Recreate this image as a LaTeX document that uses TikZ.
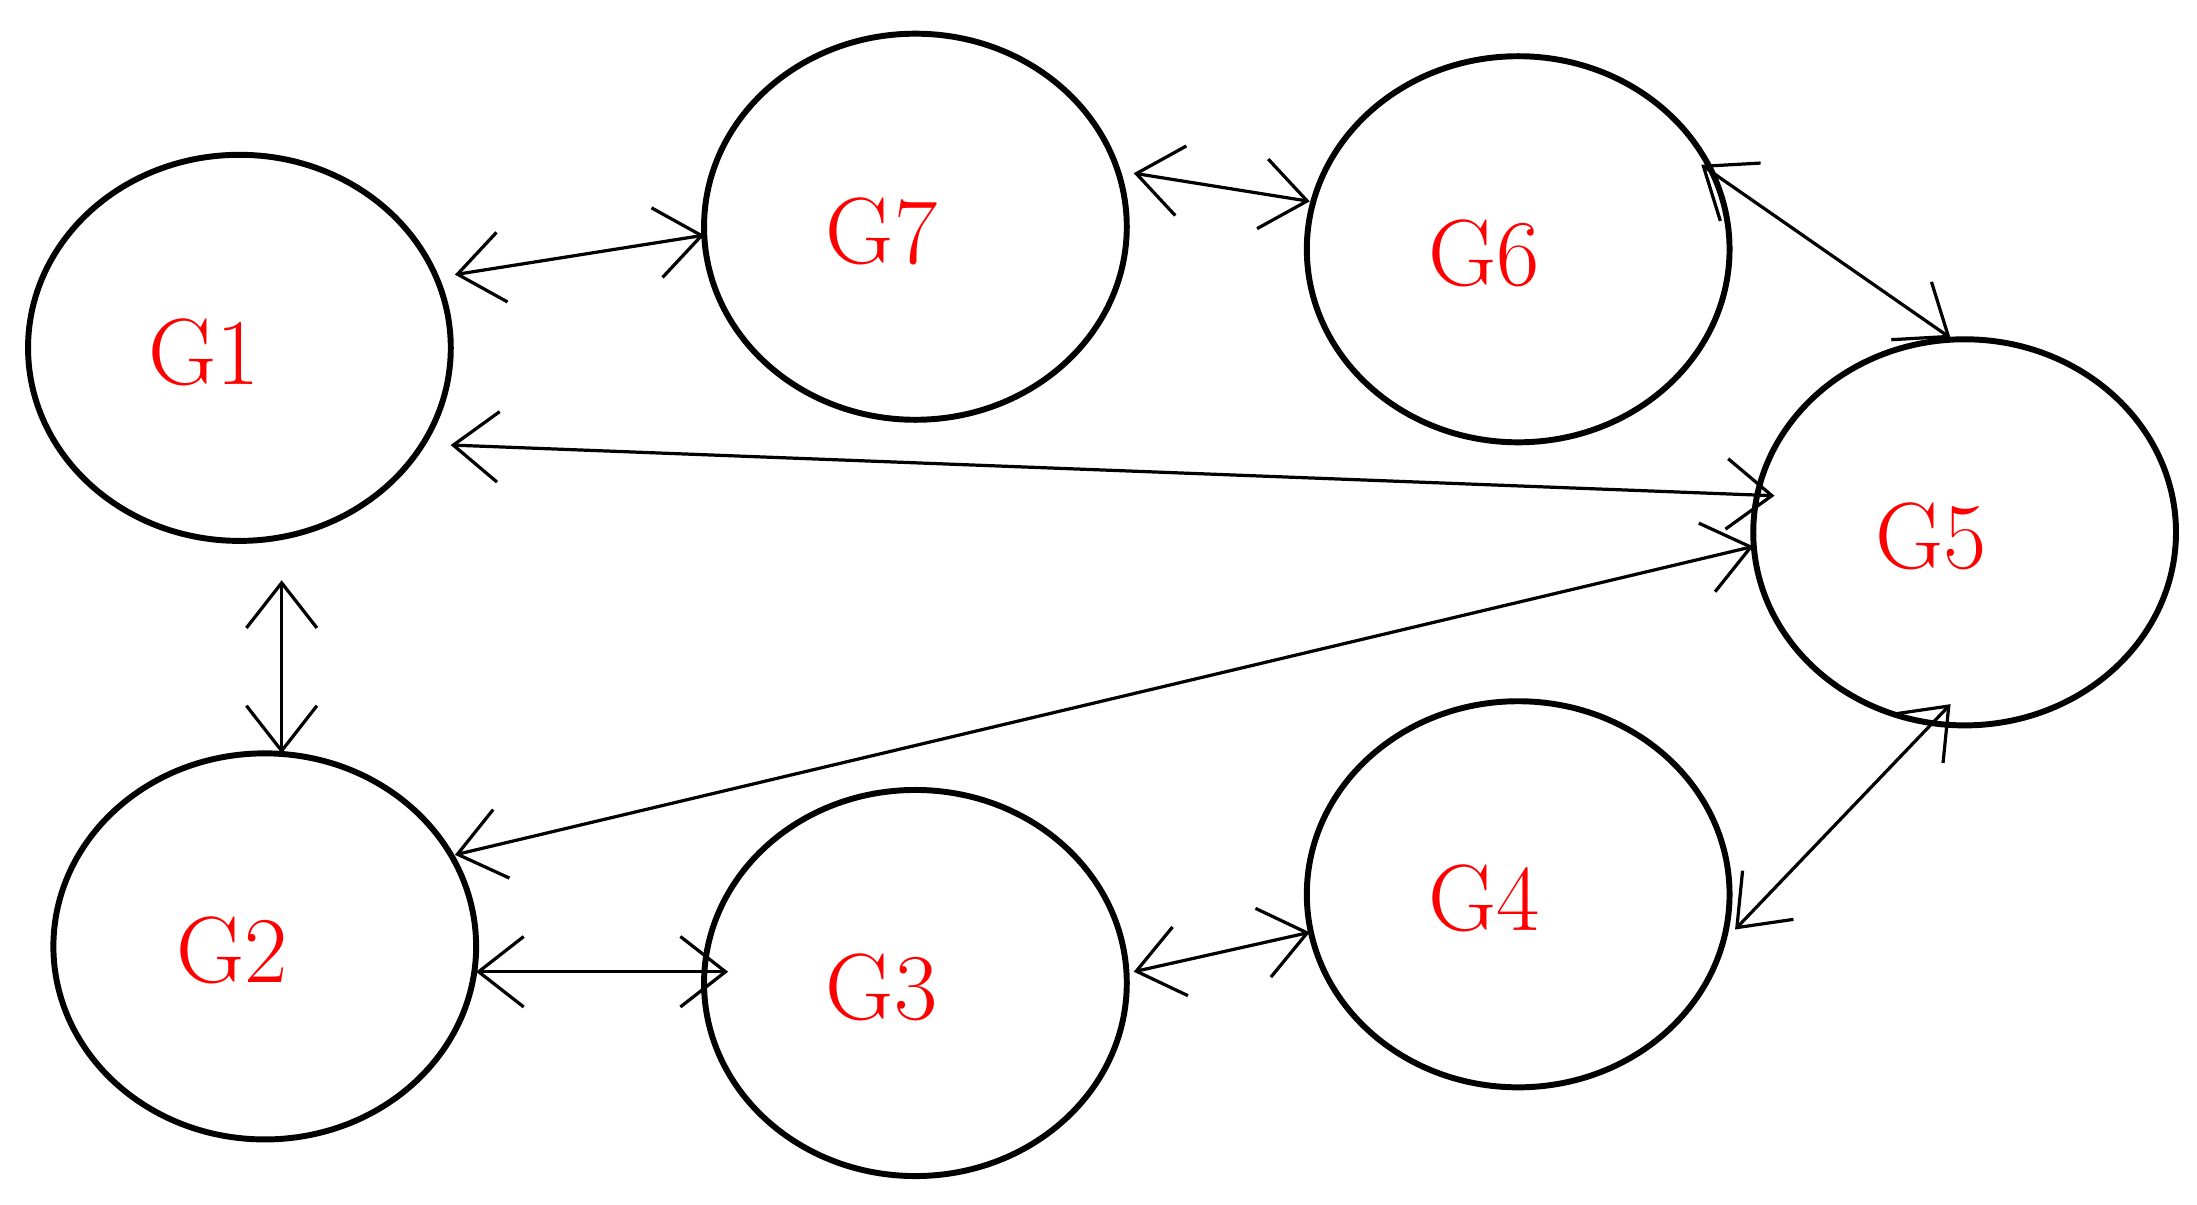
\documentclass[tikz,border=0pt]{standalone}
\usetikzlibrary{arrows.meta,shapes.geometric}
\begin{document}
\begin{tikzpicture}[x=0.01cm,y=-0.01cm,
  gn/.style={draw,line width=1.2pt,ellipse,minimum width=3cm,minimum height=2.74cm,inner sep=0pt},
  lb/.style={text=red,font=\fontsize{19}{22}\selectfont},
  con/.style={line width=0.65pt,{Straight Barb[length=0.32cm,width=0.5cm,line width=0.65pt]}-{Straight Barb[length=0.32cm,width=0.5cm,line width=0.65pt]}}]
\useasboundingbox (0,0) rectangle (1560,855);
\node[gn] (g1) at (170,247) {};
\node[gn] (g7) at (650,161) {};
\node[gn] (g6) at (1078,177) {};
\node[gn] (g5) at (1395,378) {};
\node[gn] (g4) at (1078,635) {};
\node[gn] (g3) at (650,698) {};
\node[gn] (g2) at (188,672) {};
\node[lb] (t1) at (145,250) {G1};
\node[lb] (t7) at (626,164) {G7};
\node[lb] (t6) at (1054,180) {G6};
\node[lb] (t5) at (1371,381) {G5};
\node[lb] (t4) at (1054,638) {G4};
\node[lb] (t3) at (626,701) {G3};
\node[lb] (t2) at (165,675) {G2};
\coordinate (a1) at (323,195); \coordinate (a2) at (500,167);
\coordinate (b1) at (805,123); \coordinate (b2) at (930,143);
\coordinate (c1) at (1208,117); \coordinate (c2) at (1385,240);
\coordinate (d1) at (320,316); \coordinate (d2) at (1260,352);
\coordinate (e1) at (1245,388); \coordinate (e2) at (323,607);
\coordinate (f1) at (200,412); \coordinate (f2) at (200,535);
\coordinate (h1) at (338,690); \coordinate (h2) at (517,690);
\coordinate (i1) at (805,690); \coordinate (i2) at (930,662);
\coordinate (j1) at (1232,660); \coordinate (j2) at (1385,500);
\draw[con] (a1) -- (a2);
\draw[con] (b1) -- (b2);
\draw[con] (c1) -- (c2);
\draw[con] (d1) -- (d2);
\draw[con] (e1) -- (e2);
\draw[con] (f1) -- (f2);
\draw[con] (h1) -- (h2);
\draw[con] (i1) -- (i2);
\draw[con] (j1) -- (j2);
\end{tikzpicture}
\end{document}
